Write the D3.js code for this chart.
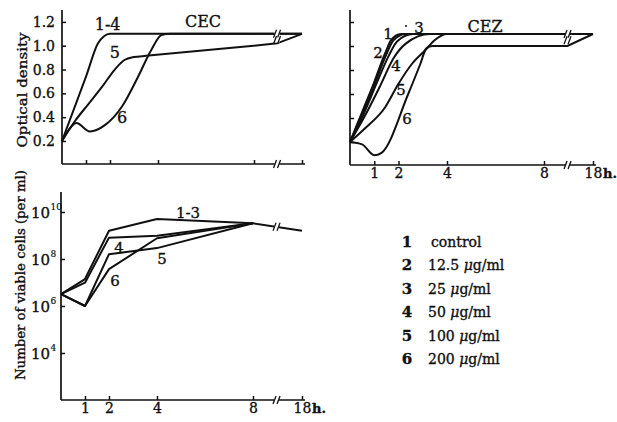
<!DOCTYPE html>
<html><head><meta charset="utf-8">
<script src="https://cdn.jsdelivr.net/npm/d3@7"></script>
<style>
body{margin:0;background:#fff}
svg{display:block}
text{font-family:"DejaVu Serif",serif;fill:#111;stroke:#111;stroke-width:0.35px}
</style>
</head><body>
<svg id="c" width="617" height="422"></svg>
<script>
// ---------- DATA ----------
const hourTicks = [1, 2, 4, 8, 18];
const hourLabels = ["1", "2", "4", "8", "18"];
const odTicks = [0.2, 0.4, 0.6, 0.8, 1.0, 1.2];
const odTickLabels = ["0.2", "0.4", "0.6", "0.8", "1.0", "1.2"];
const cellTicks = [1e4, 1e6, 1e8, 1e10];

// Panel CEC: optical density, [hour, OD]
const cec_1to4 = [[0,0.2],[0.5,0.47],[1.0,0.74],[1.5,1.02],[1.75,1.08],[2.0,1.1],[8,1.1],[18,1.1]];
const cec_5    = [[0,0.2],[0.55,0.37],[1.1,0.51],[1.65,0.65],[2.2,0.8],[2.6,0.88],[3.0,0.905],[3.5,0.915],[8,1.0],[12.8,1.02],[18,1.1]];
const cec_6    = [[0,0.2],[0.3,0.3],[0.6,0.35],[1.16,0.28],[1.8,0.335],[2.5,0.49],[3.17,0.74],[3.72,0.965],[4.15,1.09],[4.5,1.1],[8,1.1],[18,1.1]];

// Panel CEZ: optical density, [hour, OD]
const cez_1 = [[0,0.2],[0.5,0.45],[1.0,0.7],[1.45,0.94],[1.7,1.05],[2.1,1.1],[8,1.1],[18,1.1]];
const cez_2 = [[0,0.2],[0.55,0.45],[1.05,0.7],[1.5,0.93],[1.8,1.05],[2.3,1.1],[8,1.1],[18,1.1]];
const cez_3 = [[0,0.2],[0.6,0.45],[1.1,0.69],[1.6,0.92],[1.95,1.04],[2.6,1.1],[8,1.1],[18,1.1]];
const cez_4 = [[0,0.2],[0.7,0.45],[1.25,0.67],[1.8,0.9],[2.3,1.02],[3.3,1.1],[8,1.1],[18,1.1]];
const cez_5 = [[0,0.2],[0.6,0.31],[1.45,0.49],[2.0,0.685],[2.55,0.85],[3.1,0.965],[3.5,1.05],[4.0,1.1],[8,1.1],[18,1.1]];
const cez_6 = [[0,0.2],[0.5,0.18],[1.0,0.09],[1.3,0.11],[2.4,0.6],[2.9,0.85],[3.15,0.98],[3.4,1.0],[8,1.0],[12.8,1.0],[18,1.1]];

// Panel viable cells per ml
const cellHours = [0, 1, 2, 4, 8, 18];
const cells_1to3 = [3.2e6, 1.4e7, 1.6e9, 5.0e9, 3.3e9, 1.6e9];
const cells_4    = [3.2e6, 9.8e6, 8.1e8, 9.8e8, 3.3e9];
const cells_5    = [3.2e6, 1.0e6, 1.6e8, 2.9e8, 3.3e9];
const cells_6    = [3.2e6, 1.0e6, 3.7e7, 7.6e8, 3.3e9];

const legendNums = ["1", "2", "3", "4", "5", "6"];
const legendDoses = ["control", "12.5", "25", "50", "100", "200"];

const breakHour = 12.8;

// ---------- DRAWING ----------
const svg = d3.select("#c");
svg.append("rect").attr("width", 617).attr("height", 422).attr("fill", "#fff");

const ink = "#111";

const xA = d3.scaleLinear().domain([0, 8, 18]).range([62, 254, 302]);
const yA = d3.scaleLinear().domain([0, 1.3]).range([164.8, 10]);
const xB = d3.scaleLinear().domain([0, 8, 18]).range([350, 544, 593]);
const yB = d3.scaleLinear().domain([0, 1.3]).range([166, 10]);
const xC = d3.scaleLinear().domain([0, 8, 18]).range([61, 253, 302]);
const yC = d3.scaleLog().domain([1e2, Math.pow(10, 10.85)]).range([400, 192]);

function styleAxis(g) {
  g.select(".domain").remove();
  g.selectAll(".tick line").attr("stroke", ink).attr("stroke-width", 1.5);
  g.selectAll(".tick text").attr("fill", ink).style("font-family", '"DejaVu Serif",serif');
}

function axes(x, y, axisY, yTicks, yFmt, xLabels) {
  const x0 = x.range()[0];
  const yTop = y.range()[1];
  const gy = svg.append("g").attr("transform", `translate(${x0},0)`)
    .call(d3.axisLeft(y).tickValues(yTicks).tickSize(-4).tickSizeOuter(0).tickPadding(7)
      .tickFormat(yFmt || (() => "")));
  styleAxis(gy);
  gy.selectAll(".tick text").attr("font-size", 14);
  const gx = svg.append("g").attr("transform", `translate(0,${axisY})`)
    .call(d3.axisBottom(x).tickValues(hourTicks).tickSize(-4).tickSizeOuter(0).tickPadding(3)
      .tickFormat(xLabels ? ((d, i) => xLabels[i]) : (() => "")));
  styleAxis(gx);
  gx.selectAll(".tick text").attr("font-size", 14);
  svg.append("line").attr("x1", x0).attr("x2", x0).attr("y1", yTop).attr("y2", axisY)
    .attr("stroke", ink).attr("stroke-width", 1.7);
  svg.append("line").attr("x1", x0).attr("x2", x(18) + 3).attr("y1", axisY).attr("y2", axisY)
    .attr("stroke", ink).attr("stroke-width", 1.7);
  breakMark(x(breakHour), axisY);
  if (xLabels) {
    svg.append("text").attr("x", x(18) + 10).attr("y", axisY + 13)
      .attr("font-size", 13).attr("font-weight", "bold").text("h.");
  }
}

function breakMark(cx, cy) {
  svg.append("rect").attr("x", cx - 2.5).attr("y", cy - 2.5).attr("width", 5).attr("height", 5).attr("fill", "#fff");
  [[-3.5, -0.5], [0.5, 3.5]].forEach(([a, b]) => {
    svg.append("line").attr("x1", cx + a).attr("y1", cy + 4).attr("x2", cx + b).attr("y2", cy - 4)
      .attr("stroke", ink).attr("stroke-width", 1.3);
  });
}

function drawSeries(pts, x, y) {
  const k = pts.findIndex(p => p[0] >= 8);
  const smooth = d3.line().x(d => x(d[0])).y(d => y(d[1])).curve(d3.curveMonotoneX);
  const straight = d3.line().x(d => x(d[0])).y(d => y(d[1]));
  svg.append("path").attr("d", smooth(pts.slice(0, k + 1)))
    .attr("fill", "none").attr("stroke", ink).attr("stroke-width", 2).attr("stroke-linejoin", "round");
  svg.append("path").attr("d", straight(pts.slice(k)))
    .attr("fill", "none").attr("stroke", ink).attr("stroke-width", 2);
}

function lineBreaks(seriesList, x, y) {
  const seen = new Set();
  seriesList.forEach(pts => {
    const p8 = pts.find(p => p[0] === 8), p18 = pts.find(p => p[0] === 18);
    if (!p8 || !p18) return;
    const t = (x(breakHour) - x(8)) / (x(18) - x(8));
    const yy = y(p8[1]) + (y(p18[1]) - y(p8[1])) * t;
    const key = Math.round(yy);
    if (seen.has(key)) return;
    seen.add(key);
    breakMark(x(breakHour), yy);
  });
}

function label(txt, px, py, size) {
  svg.append("text").attr("x", px).attr("y", py).attr("text-anchor", "middle")
    .attr("font-size", size || 15).text(txt);
}

// ---- Panel CEC ----
axes(xA, yA, 164, odTicks, (d, i) => odTickLabels[i], null);
const cecList = [cec_1to4, cec_5, cec_6];
cecList.forEach(s => drawSeries(s, xA, yA));
lineBreaks(cecList, xA, yA);
label("1-4", xA(1.9), yA(1.128), 16);
label("5", xA(2.2), yA(0.9), 16);
label("6", xA(2.5), yA(0.35), 16);
svg.append("text").attr("x", 203).attr("y", 27).attr("text-anchor", "middle").attr("font-size", 16).text("CEC");
svg.append("text").attr("transform", "translate(27,90) rotate(-90)").attr("text-anchor", "middle")
  .attr("font-size", 12).attr("textLength", 115).attr("lengthAdjust", "spacingAndGlyphs").text("Optical density");

// ---- Panel CEZ ----
axes(xB, yB, 165, odTicks, null, hourLabels);
const cezList = [cez_1, cez_2, cez_3, cez_4, cez_5, cez_6];
cezList.forEach(s => drawSeries(s, xB, yB));
lineBreaks(cezList, xB, yB);
label("1", 388, 38.5); label("3", 419, 32.5); label("2", 378, 57.5);
label("4", 396, 70.5); label("5", 401, 94.5); label("6", 407, 123.5);
svg.append("circle").attr("cx", 406).attr("cy", 26).attr("r", 1).attr("fill", ink);
svg.append("text").attr("x", 485).attr("y", 32).attr("text-anchor", "middle").attr("font-size", 16).text("CEZ");

// ---- Panel viable cells ----
{
  const x0 = xC.range()[0];
  const gy = svg.append("g").attr("transform", `translate(${x0},0)`)
    .call(d3.axisLeft(yC).tickValues(cellTicks).tickSize(-4).tickSizeOuter(0).tickFormat(() => ""));
  styleAxis(gy);
  gy.selectAll(".tick").each(function (d) {
    const t = d3.select(this);
    t.append("text").attr("x", -11).attr("y", 6).attr("text-anchor", "end").attr("font-size", 15).attr("fill", ink).text("10");
    t.append("text").attr("x", -10.5).attr("y", -2).attr("text-anchor", "start").attr("font-size", 9).attr("fill", ink)
      .style("stroke-width", "0.2px").text(Math.round(Math.log10(d)));
  });
  const gx = svg.append("g").attr("transform", `translate(0,400)`)
    .call(d3.axisBottom(xC).tickValues(hourTicks).tickSize(-4).tickSizeOuter(0).tickPadding(3).tickFormat((d, i) => hourLabels[i]));
  styleAxis(gx);
  gx.selectAll(".tick text").attr("font-size", 14);
  svg.append("line").attr("x1", x0).attr("x2", x0).attr("y1", yC.range()[1]).attr("y2", 400).attr("stroke", ink).attr("stroke-width", 1.7);
  svg.append("line").attr("x1", x0).attr("x2", xC(18) + 3).attr("y1", 400).attr("y2", 400).attr("stroke", ink).attr("stroke-width", 1.7);
  breakMark(xC(breakHour), 400);
  svg.append("text").attr("x", xC(18) + 10).attr("y", 413).attr("font-size", 13).attr("font-weight", "bold").text("h.");

  const cellSeries = [cells_1to3, cells_4, cells_5, cells_6];
  const ln = d3.line().x((d, i) => xC(cellHours[i])).y(d => yC(d));
  cellSeries.forEach(s => {
    svg.append("path").attr("d", ln(s)).attr("fill", "none").attr("stroke", ink)
      .attr("stroke-width", 2).attr("stroke-linejoin", "round");
  });
  const t = (xC(breakHour) - xC(8)) / (xC(18) - xC(8));
  breakMark(xC(breakHour), yC(cells_1to3[4]) + (yC(cells_1to3[5]) - yC(cells_1to3[4])) * t);

  label("1-3", 188, 217.5);
  label("4", 119, 252.5);
  label("5", 162, 263.5);
  label("6", 115, 285.5);
  svg.append("text").attr("transform", "translate(25,275) rotate(-90)").attr("text-anchor", "middle")
    .attr("font-size", 12).attr("textLength", 210).attr("lengthAdjust", "spacingAndGlyphs")
    .text("Number of viable cells (per ml)");
}

// ---- Legend ----
legendNums.forEach((n, i) => {
  const yy = 247 + i * 23.4;
  svg.append("text").attr("x", 407).attr("y", yy).attr("text-anchor", "middle")
    .attr("font-size", 15).attr("font-weight", "bold").text(n);
  const t = svg.append("text").attr("x", i === 0 ? 431 : 428).attr("y", yy).attr("font-size", 14);
  if (i === 0) {
    t.text(legendDoses[i]);
  } else {
    t.append("tspan").text(legendDoses[i] + " ");
    t.append("tspan").attr("font-style", "italic").text("μ");
    t.append("tspan").text("g/ml");
  }
});
</script>
</body></html>
